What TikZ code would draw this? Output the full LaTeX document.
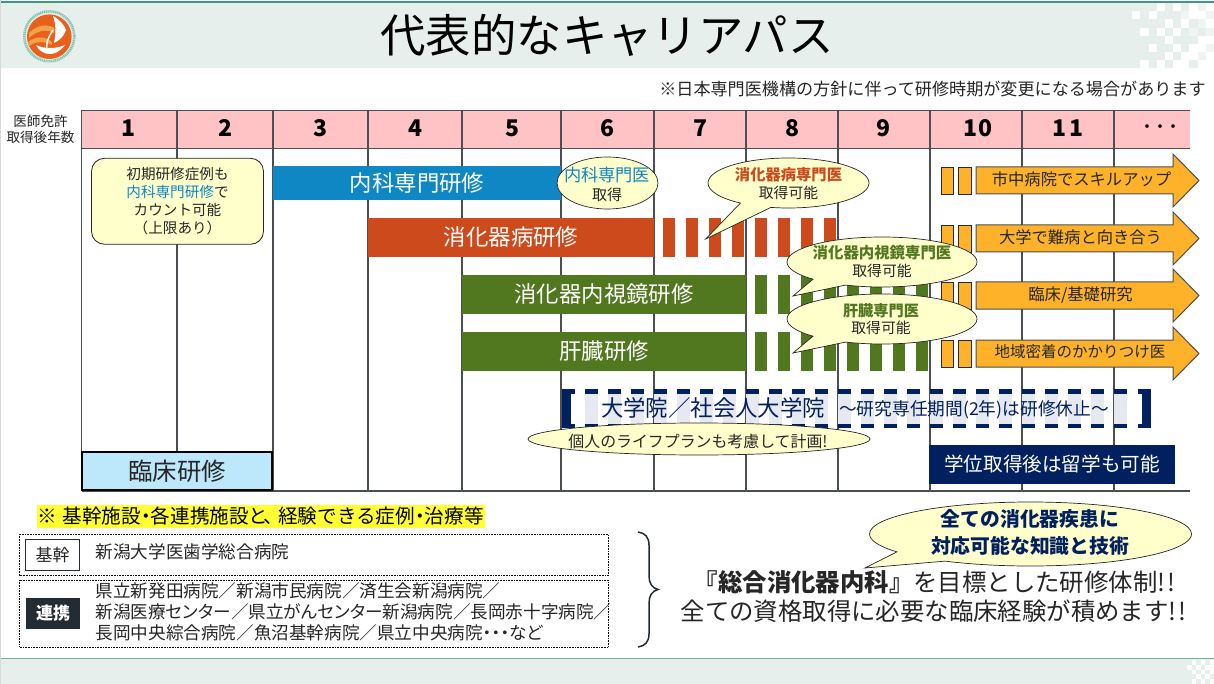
\documentclass[tikz,border=0pt]{standalone}
\usepackage{fontspec}
\setmainfont{Noto Sans CJK JP}
\usetikzlibrary{shapes.callouts,shapes.geometric}
\definecolor{band}{HTML}{E6EFEB}
\definecolor{bandline}{HTML}{3E9A7A}
\definecolor{footline}{HTML}{6DB598}
\definecolor{ink}{HTML}{262626}
\definecolor{grid}{HTML}{4A4F54}
\definecolor{pinkhead}{HTML}{FFC2C5}
\definecolor{blueb}{HTML}{0E87C4}
\definecolor{redb}{HTML}{CD4A1C}
\definecolor{greenb}{HTML}{52781F}
\definecolor{orangeb}{HTML}{FDB22A}
\definecolor{navy}{HTML}{002060}
\definecolor{cream}{HTML}{FFFFCC}
\definecolor{paleblue}{HTML}{BDE7FB}
\definecolor{stripegray}{HTML}{E6E9F0}
\definecolor{darkbox}{HTML}{232B33}
\definecolor{logoorange}{HTML}{E8601C}
\definecolor{logolight}{HTML}{F2A24A}
\definecolor{logoring}{HTML}{7FC4B0}
\definecolor{marker}{HTML}{FFFF33}
\newcommand{\fs}[1]{\fontsize{#1}{#1}\selectfont}
\newcommand{\fsb}[2]{\fontsize{#1}{#2}\selectfont}
\newcommand{\nk}[1]{\hspace{-.25em}#1\hspace{-.25em}}
\newcommand{\pal}[1]{{\addfontfeature{RawFeature=+palt}#1}}
\tikzset{
  txt/.style={inner sep=0pt,text=ink},
  wtxt/.style={inner sep=0pt,text=white},
  gridline/.style={draw=grid,line width=1.1pt},
  headcell/.style={inner sep=0pt,text=black,font=\fs{23}\bfseries},
  bubble/.style={draw=ink,line width=.7pt,fill=cream,inner sep=0pt},
  tailbubble/.style={bubble,ellipse callout,callout pointer arc=24},
  plainbubble/.style={bubble,ellipse},
  stubbox/.style={draw=darkbox,line width=.8pt,fill=orangeb},
  arrowbox/.style={draw=grid,line width=1pt,fill=orangeb,line join=miter},
  dotbox/.style={draw=black,line width=.6pt,densely dotted},
}
\begin{document}
\begin{tikzpicture}[x=1pt,y=-1pt]
\useasboundingbox (0,0) rectangle (1214,684);
\fill[white] (0,0) rectangle (1214,684);
% header and footer bands
\fill[band] (0,2) rectangle (1214,68);
\fill[bandline] (0,1) rectangle (1214,2.8);
\fill[band] (0,658) rectangle (1214,684);
\fill[footline] (0,657.5) rectangle (1214,659);
\fill[black!15] (0,0) rectangle (.8,684);
% mosaic top right
\foreach \c/\r in {3/0,5/0,7/0,9/0, 0/1,2/1,6/1,7/1,8/1, 4/2,6/2,8/2,9/2, 1/3,3/3,5/3,7/3,9/3,
  4/4,8/4,9/4, 2/5,5/5,7/5,8/5,9/5, 4/6,6/6,7/6,9/6, 1/7,3/7,5/7,6/7,8/7,9/7}
  \fill[white] ({1132.3+8.16*\c},{3.3+8.07*\r}) rectangle ++(8.16,8.07);
\fill[white] (1206,3.3) rectangle (1214,68);
\foreach \c/\r in {8/0,6/1,9/1,8/2,7/3,9/3,9/5,8/6}
  \fill[band!60] ({1132.3+8.16*\c},{3.3+8.07*\r}) rectangle ++(8.16,8.07);
% mosaic bottom right
\foreach \c/\r in {1/0,3/0,5/0, 0/1,2/1,4/1,5/1, 1/2,3/2,5/2, 2/3,4/3, 1/4,3/4,5/4}
  \fill[white] ({1187+4.5*\c},{660+4.8*\r}) rectangle ++(4.5,4.8);
% logo
\draw[logoring,line width=2.6pt,dash pattern=on 1.2pt off .7pt] (49.3,36.3) circle (25);
\fill[logoorange] (49.3,36.7) circle (22.3);
\fill[logolight] (29,33) .. controls (38,24) and (48,24) .. (54,28) -- (54,33) .. controls (46,29) and (38,30) .. (29,38) -- cycle;
\fill[logolight] (28,42) .. controls (36,36) and (46,36) .. (52,42) -- (52,45) .. controls (44,41) and (36,41) .. (29,46) -- cycle;
\fill[white] (53,16) .. controls (60,20) and (65,26) .. (66,30) .. controls (64,36) and (60,40) .. (54,43) .. controls (56,34) and (56,24) .. (53,16) -- cycle;
\draw[white,line width=1.4pt] (47,50) .. controls (46,42) and (48,38) .. (53,30);
\fill[white] (36,45) .. controls (44,49) and (56,49) .. (65,45) .. controls (60,52) and (54,54) .. (50,54) .. controls (44,54) and (39,51) .. (36,45) -- cycle;
% title and note
\node[txt,text=black,font=\fs{45.4}] (title) at (607,35) {代表的なキャリアパス};
\node[txt,font=\fs{17.1}] (note) at (932.5,89) {※日本専門医機構の方針に伴って研修時期が変更になる場合があります};
\node[txt,font=\fsb{13.6}{16},align=center] (axis) at (40.5,129) {医師免許\\取得後年数};
% grid
\fill[pinkhead] (81.5,110.5) rectangle (1190,148.5);
\foreach \gx in {273,368,462,561,654,746,838,930,1022,1114}
  \draw[gridline] (\gx,110.5) -- (\gx,491);
\draw[gridline] (177,110.5) -- (177,451);
\draw[gridline] (81.5,110.5) -- (81.5,491);
\draw[gridline] (81.5,110.5) -- (1190,110.5);
\draw[gridline] (81.5,148.5) -- (1190,148.5);
\draw[gridline] (81.5,491) -- (1190,491);
% year numbers
\node[headcell] (y1) at (129,128) {1};
\node[headcell] (y2) at (225,128) {2};
\node[headcell] (y3) at (320,128) {3};
\node[headcell] (y4) at (415,128) {4};
\node[headcell] (y5) at (512,128) {5};
\node[headcell] (y6) at (607,128) {6};
\node[headcell] (y7) at (700,128) {7};
\node[headcell] (y8) at (792,128) {8};
\node[headcell] (y9) at (883,128) {9};
\node[headcell] (y10) at (978,128) {1\hspace{2pt}0};
\node[headcell] (y11) at (1068,128) {1\hspace{4pt}1};
\node[headcell,font=\fs{13}\bfseries] (ymore) at (1160,128) {・・・};
% note box
\node[draw=ink,line width=.8pt,fill=cream,rounded corners=13pt,minimum width=172pt,minimum height=86pt,inner sep=0pt,
  align=center,text=ink,font=\fsb{14.6}{18}] (initial) at (177.5,201.3)
  {初期研修症例も\\{\color{blueb}内科専門研修}で\\カウント可能\\（上限あり）};
% bars
\node[fill=blueb,minimum width=288pt,minimum height=34pt,inner sep=0pt,text=white,font=\fs{22.4}] (bar1) at (417,183) {内科専門研修};
\node[fill=redb,minimum width=286pt,minimum height=39pt,inner sep=0pt,text=white,font=\fs{22.4}] (bar2) at (511,237.5) {消化器病研修};
\node[fill=greenb,minimum width=284pt,minimum height=39pt,inner sep=0pt,text=white,font=\fs{22.4}] (bar3) at (604,294.5) {消化器内視鏡研修};
\node[fill=greenb,minimum width=284pt,minimum height=39pt,inner sep=0pt,text=white,font=\fs{22.4}] (bar4) at (604,351.5) {肝臓研修};
\foreach \s in {663,686,709,732,755,778,801,824}
  \fill[redb] (\s,218) rectangle ++(12,39);
\foreach \s in {755,778,801,824,847,870,893,916}{
  \fill[greenb] (\s,275) rectangle ++(12,39);
  \fill[greenb] (\s,332) rectangle ++(12,39);}
% orange stubs
\foreach \sy in {167,225,282,340}{
  \draw[stubbox] (941,\sy) rectangle (953,\sy+27);
  \draw[stubbox] (958,\sy) rectangle (971,\sy+27);}
% orange arrows
\foreach \ay in {180.5,238.5,295.5,353.5}
  \draw[arrowbox] (976,\ay-13.5) -- (1173,\ay-13.5) -- (1173,\ay-26.5) -- (1199,\ay) -- (1173,\ay+26.5) -- (1173,\ay+13.5) -- (976,\ay+13.5) -- cycle;
\node[txt,font=\fs{16.3},text=black!85] (a1) at (1081.5,179) {市中病院でスキルアップ};
\node[txt,font=\fs{16.3},text=black!85] (a2) at (1080.5,237) {大学で難病と向き合う};
\node[txt,font=\fs{16.3},text=black!85] (a3) at (1080.5,295) {臨床/基礎研究};
\node[txt,font=\fs{15.5},text=black!85] (a4) at (1080,352) {地域密着のかかりつけ医};
% speech bubbles
\node[plainbubble,minimum width=101pt,minimum height=52pt] (b1) at (607.5,183) {};
\node[txt,text=blueb,font=\fs{17.2}] (b1t) at (607,175) {内科専門医};
\node[txt,font=\fs{15}] (b1s) at (607,195) {取得};
\node[tailbubble,minimum width=161pt,minimum height=50pt,callout absolute pointer={(705.7,239)}] (b2) at (788.5,183) {};
\node[txt,text=redb,font=\fs{15.3}\bfseries] (b2t) at (788.5,175) {消化器病専門医};
\node[txt,font=\fs{14.8}] (b2s) at (788.5,193) {取得可能};
\node[tailbubble,minimum width=190pt,minimum height=50pt,callout absolute pointer={(793,296)}] (b3) at (882,262) {};
\node[txt,text=greenb,font=\fs{15.4}\bfseries] (b3t) at (882,253) {消化器内視鏡専門医};
\node[txt,font=\fs{14.8}] (b3s) at (882,271) {取得可能};
\node[tailbubble,minimum width=190pt,minimum height=50pt,callout absolute pointer={(793,353)}] (b4) at (882,319) {};
\node[txt,text=greenb,font=\fs{15.2}\bfseries] (b4t) at (881,311) {肝臓専門医};
\node[txt,font=\fs{14.8}] (b4s) at (881,328) {取得可能};
% graduate school frame
\foreach \k in {0,...,23}{
  \fill[stripegray] ({585+23*\k},394) rectangle ++(13,30);
  \fill[navy] ({585+23*\k},389) rectangle ++(13,5);
  \fill[navy] ({585+23*\k},424) rectangle ++(13,3.5);}
\fill[navy] (562,389) rectangle (575,394);
\fill[navy] (562,424) rectangle (575,427.5);
\fill[navy] (562,389) rectangle (571,427.5);
\fill[navy] (1138,389) rectangle (1151,394);
\fill[navy] (1138,424) rectangle (1151,427.5);
\fill[navy] (1142,389) rectangle (1151,427.5);
\node[txt,text=navy,font=\fs{22.4}] (grad) at (713,408) {大学院／社会人大学院};
\node[txt,text=navy,font=\fs{17.7}] (gradsub) at (974,410) {～研究専任期間(2年)は研修休止～};
\node[plainbubble,minimum width=342pt,minimum height=32pt] (life) at (699,439) {};
\node[txt,font=\fs{15.9}] (lifet) at (698,441) {個人のライフプランも考慮して計画!};
% boxes on the chart
\node[draw=black,line width=1.4pt,fill=paleblue,minimum width=190pt,minimum height=38pt,inner sep=0pt,text=ink,font=\fs{24.4}] (rinsho) at (177,471) {臨床研修};
\node[fill=navy,minimum width=246pt,minimum height=39pt,inner sep=0pt,text=white,font=\fs{19.6}] (abroad) at (1052,464.5) {学位取得後は留学も可能};
% lower left
\fill[marker] (36.5,504.7) rectangle (485,527.7);
\node[txt,anchor=west,text=black,font=\fs{19.6}] (yl) at (37,516) {※\hspace{.3em}基幹施設\nk{・}各連携施設と\nk{、}経験できる症例\nk{・}治療等};
\draw[dotbox] (19.5,534) rectangle (608,575.7);
\draw[dotbox] (19.5,580) rectangle (608,647);
\node[draw=darkbox,line width=.8pt,fill=white,minimum width=54pt,minimum height=31.5pt,inner sep=0pt,text=ink,font=\fs{17}] (kikan) at (52.5,554.8) {基幹};
\node[fill=darkbox,minimum width=54pt,minimum height=31pt,inner sep=0pt,text=white,font=\fs{17}\bfseries] (renkei) at (53,613.5) {連携};
\node[txt,anchor=west,font=\fs{17.6}] (k1) at (95.5,552) {新潟大学医歯学総合病院};
\node[txt,anchor=west,font=\fs{17.6}] (r1) at (95.5,591) {県立新発田病院／新潟市民病院／済生会新潟病院／};
\node[txt,anchor=west,font=\fs{17.6}] (r2) at (95.5,612) {新潟医療\pal{センター}／県立\pal{がんセンター}新潟病院／長岡赤十字病院／};
\node[txt,anchor=west,font=\fs{17.6}] (r3) at (95.5,633) {長岡中央綜合病院／魚沼基幹病院／県立中央病院\nk{・}\nk{・}\nk{・}など};
\draw[draw=darkbox,line width=1.5pt] (638,532) .. controls (645,533) and (649,537) .. (649,545) -- (649,576) .. controls (649,583) and (652,588) .. (658,589.5) .. controls (652,591) and (649,596) .. (649,603) -- (649,634) .. controls (649,642) and (645,646) .. (638,647);
% lower right
\node[tailbubble,minimum width=322pt,minimum height=64pt,callout absolute pointer={(865,568)}] (all) at (1030.5,534) {};
\node[txt,text=navy,font=\fs{19.8}\bfseries] (allt) at (1030,519) {全ての消化器疾患に};
\node[txt,text=navy,font=\fs{19.8}\bfseries] (alls) at (1030,546) {対応可能な知識と技術};
\node[txt,font=\fs{24.4}] (m1) at (934.5,582) {{\bfseries 『総合消化器内科』}を目標とした研修体制!\hspace{2pt}!};
\node[txt,font=\fs{24.4}] (m2) at (933.5,611) {全ての資格取得に必要な臨床経験が積めます!\hspace{2pt}!};
\end{tikzpicture}
\end{document}
